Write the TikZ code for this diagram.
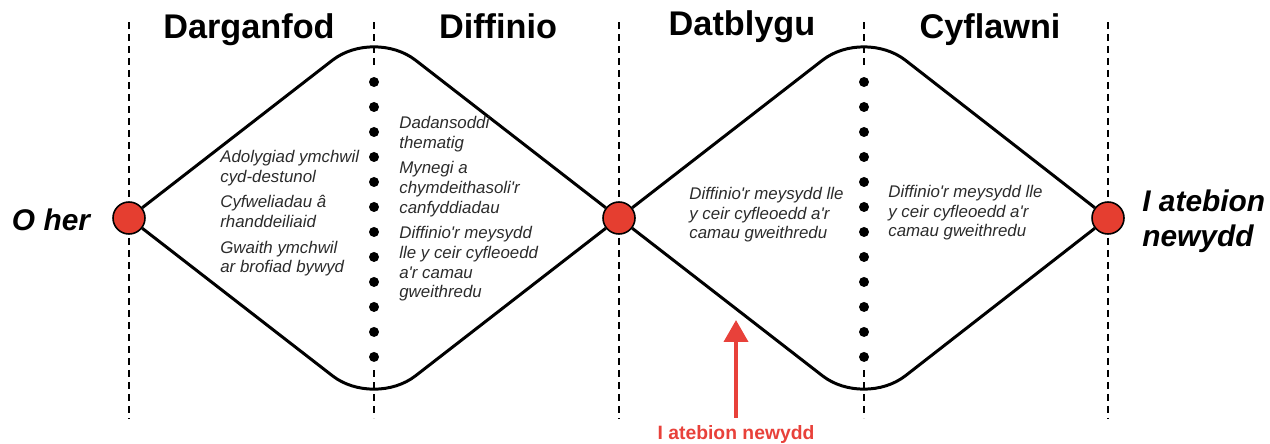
\documentclass[tikz,border=0pt]{standalone}
\usepackage{fontspec}
\setmainfont{Liberation Sans}[Ligatures=TeXOff]
\usetikzlibrary{arrows.meta, positioning, backgrounds}
\usepackage{xcolor}
\definecolor{dotred}{HTML}{E53E30}
\definecolor{arrowred}{HTML}{E8413A}
\definecolor{notegrey}{HTML}{2B2B2B}
\tikzset{
  stage/.style={font=\fontsize{19.5}{23}\selectfont\bfseries, inner sep=0pt, anchor=base},
  endlabel/.style={font=\fontsize{17}{19.8}\selectfont\bfseries\itshape, inner sep=0pt, align=left},
  milestone/.style={circle, draw=black, fill=dotred, line width=0.9pt,
                    minimum size=0.64cm, inner sep=0pt},
  activity/.style={font=\fontsize{9.6}{11.2}\selectfont\itshape, text=notegrey,
                   inner sep=0pt, align=left, anchor=north west},
  % --- guide lines ---
  divider/.style={draw=black, line width=0.75pt, dash pattern=on 0.14cm off 0.1cm},
  dotline/.style={draw=black, line width=0.2cm, line cap=round, dash pattern=on 0pt off 0.5cm},
  wave/.style={draw=black, line width=1.7pt, rounded corners=1.05cm},
  feedback/.style={-{Triangle[length=12.5pt,width=13.6pt]}, draw=arrowred, line width=2.3pt},
  feedlabel/.style={font=\fontsize{11}{13}\selectfont\bfseries, text=arrowred, inner sep=4pt, anchor=base},
}

\begin{document}
\begin{tikzpicture}[x=0.02cm, y=-0.02cm]
  \useasboundingbox (0,0) rectangle (1270,443);

  \node[stage] (discover) at (249,38) {Darganfod};
  \node[stage] (define)   at (498,38) {Diffinio};
  \node[stage] (develop)  at (742,35) {Datblygu};
  \node[stage] (deliver)  at (990,38) {Cyflawni};

  \node[milestone] (m1) at (129,218) {};
  \node[milestone] (m2) at (619,218) {};
  \node[milestone] (m3) at (1108,218) {};

  \coordinate (top1) at (374,28);
  \coordinate (bot1) at (374,408);
  \coordinate (top2) at (864,28);
  \coordinate (bot2) at (864,408);

  \node[endlabel, anchor=base] (start) at (51,230) {O her};
  \node[endlabel, anchor=north west] (finish) at (1142,190) {I atebion\\newydd};

  \node[activity] (discovertxt) at (220,150)
        {Adolygiad ymchwil\\cyd-destunol\\[3.4pt]Cyfweliadau â\\rhanddeiliaid\\[3.4pt]Gwaith ymchwil\\ar brofiad bywyd};
  \node[activity] (definetxt) at (399,116)
        {Dadansoddi\\thematig\\[3.4pt]Mynegi a\\chymdeithasoli'r\\canfyddiadau\\[3.4pt]Diffinio'r meysydd\\lle y ceir cyfleoedd\\a'r camau\\gweithredu};
  \node[activity] (developtxt) at (689,187)
        {Diffinio'r meysydd lle\\y ceir cyfleoedd a'r\\camau gweithredu};
  \node[activity] (delivertxt) at (888,185)
        {Diffinio'r meysydd lle\\y ceir cyfleoedd a'r\\camau gweithredu};

  \node[feedlabel] (loop) at (736,439) {I atebion newydd};
  \coordinate (looptip) at (736,320);
  \draw[feedback] (loop) -- (looptip);

  \begin{scope}[on background layer]
    \draw[divider] (129,22) -- (129,418);
    \draw[divider] (619,22) -- (619,418);
    \draw[divider] (1108,22) -- (1108,418);
    \draw[divider] (374,22) -- (374,68);
    \draw[divider] (374,370) -- (374,418);
    \draw[divider] (864,22) -- (864,68);
    \draw[divider] (864,370) -- (864,418);

    \draw[wave] (m1) -- (top1) -- (m2);
    \draw[wave] (m1) -- (bot1) -- (m2);
    \draw[wave] (m2) -- (top2) -- (m3);
    \draw[wave] (m2) -- (bot2) -- (m3);
  \end{scope}

  \draw[dotline] (374,82) -- (374,357.5);
  \draw[dotline] (864,82) -- (864,357.5);
\end{tikzpicture}
\end{document}
